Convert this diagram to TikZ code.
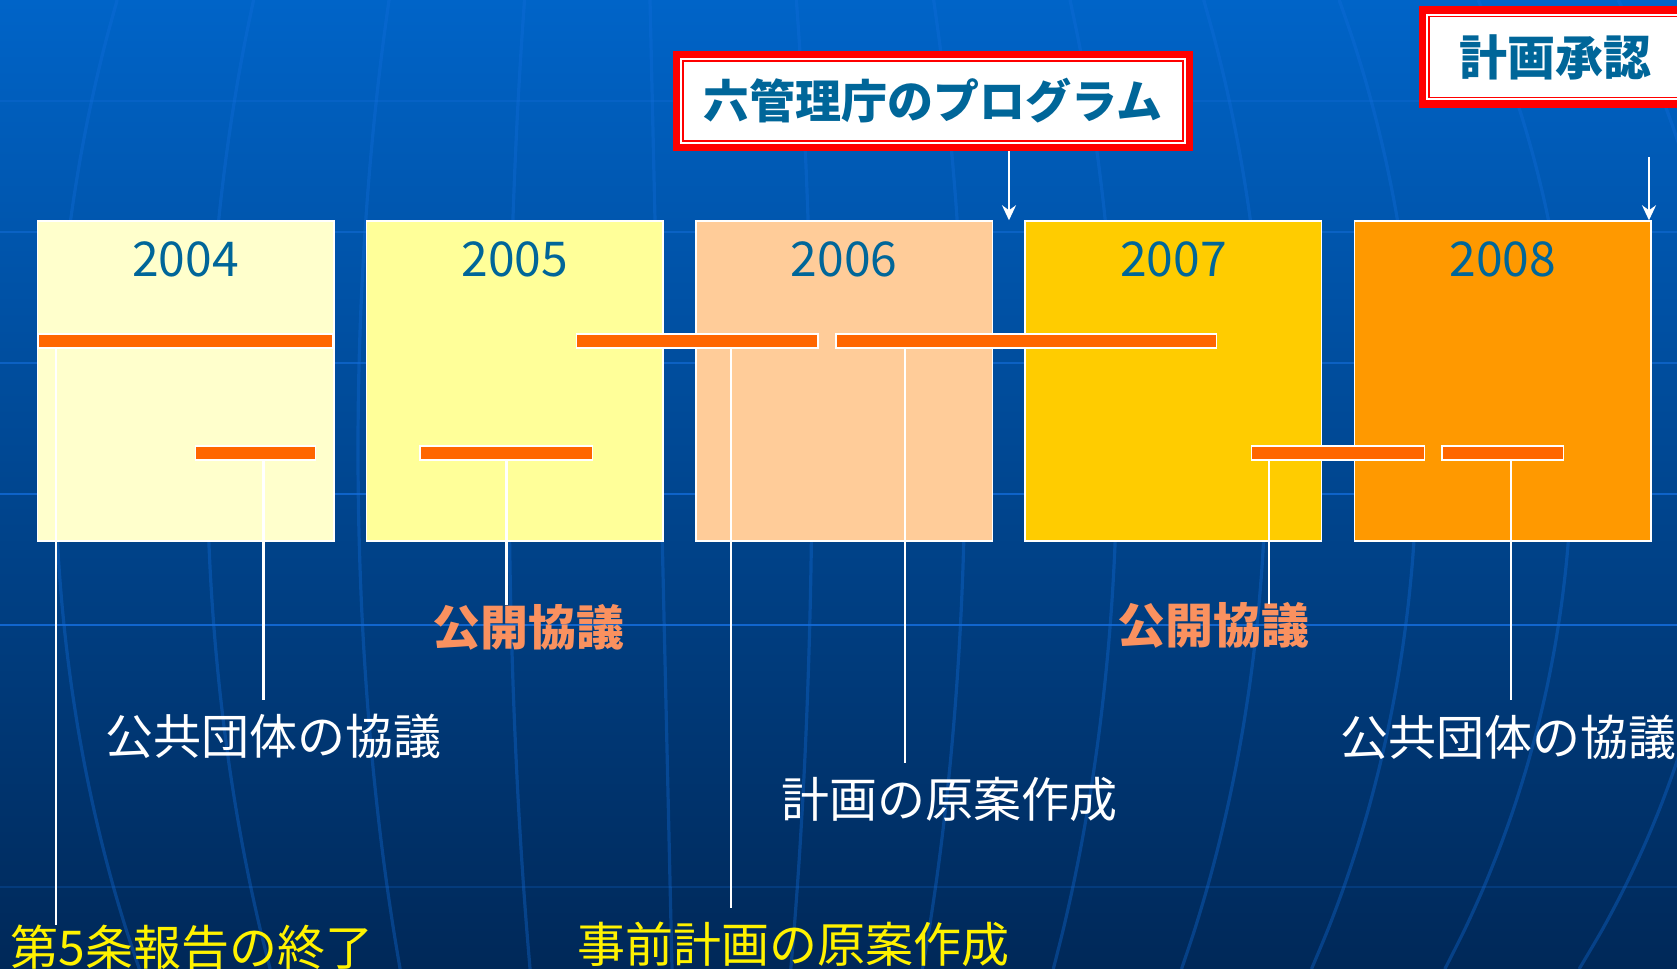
\documentclass[tikz,border=0pt]{standalone}
\usepackage{fontspec}
\setmainfont{Noto Sans CJK JP}
\usetikzlibrary{arrows.meta}
\definecolor{yeartxt}{RGB}{0,102,153}
\definecolor{barorange}{RGB}{255,102,0}
\definecolor{salmon}{RGB}{250,145,95}
\definecolor{c04}{RGB}{255,255,204}
\definecolor{c05}{RGB}{255,255,153}
\definecolor{c06}{RGB}{255,204,153}
\definecolor{c07}{RGB}{255,204,0}
\definecolor{c08}{RGB}{255,153,0}
\definecolor{bgtop}{RGB}{0,100,200}
\definecolor{bgmid}{RGB}{1,70,142}
\definecolor{bgbot}{RGB}{0,40,88}
\definecolor{gridblue}{RGB}{20,110,220}
\definecolor{titlered}{RGB}{255,0,0}
\begin{document}
\begin{tikzpicture}[x=0.5pt,y=-0.5pt,
  yearbox/.style={draw=white, line width=0.75pt, minimum width=148.25pt, minimum height=160pt, inner sep=0pt},
  yeartext/.style={text=yeartxt, font=\fontsize{24}{28}\selectfont, inner sep=0pt},
  bar/.style={fill=barorange, draw=white, line width=0.75pt, minimum height=7pt, inner sep=0pt},
  lbl/.style={inner sep=0pt, font=\fontsize{24}{28}\selectfont},
  boldlbl/.style={inner sep=0pt, font=\bfseries\fontsize{24}{28}\selectfont},
  conn/.style={white, line width=1.1pt},
  arr/.style={white, line width=1pt, -{Stealth[length=7.5pt,width=7pt,inset=2.5pt]}},
  meridian/.style={gridblue, opacity=0.35, line width=1.6pt},
  parallel/.style={gridblue, line width=1.4pt},
  titlebox/.style={fill=white, inner sep=0pt, text=yeartxt},
  thickred/.style={titlered, line width=3.75pt},
  thinred/.style={titlered, line width=0.75pt}
]
\useasboundingbox (0,0) rectangle (1677,969);
\clip (0,0) rectangle (1677,969);
% background
\shade[top color=bgtop, middle color=bgmid, bottom color=bgbot] (0,0) rectangle (1677,969);
\foreach \yy/\op in {101/0.3, 232/0.5, 363/0.6, 494/0.75, 625/0.85, 887/0.22}
  \draw[parallel, opacity=\op] (0,\yy) -- (1677,\yy);
\foreach \k in {-605,-453,-302,-151,152,305,457,606,757,912,1068}
  \draw[meridian] plot[smooth, domain=0:969, samples=25, variable=\t]
    ({660+\k*sqrt(1-((\t-450)/1019)*((\t-450)/1019))}, \t);
\draw[meridian] (650,0) -- (672,969);

% year boxes
\node[yearbox, fill=c04] (y2004) at (185.5,381) {};
\node[yearbox, fill=c05] (y2005) at (514.8,381) {};
\node[yearbox, fill=c06] (y2006) at (844.1,381) {};
\node[yearbox, fill=c07] (y2007) at (1173.4,381) {};
\node[yearbox, fill=c08] (y2008) at (1502.7,381) {};
\node[yeartext] (t2004) at (185.5,259) {2004};
\node[yeartext] (t2005) at (514.8,259) {2005};
\node[yeartext] (t2006) at (844.1,259) {2006};
\node[yeartext] (t2007) at (1173.4,259) {2007};
\node[yeartext] (t2008) at (1502.7,259) {2008};

% labels
\node[lbl, text=yellow] (l1) at (192,947) {第5条報告の終了};
\node[lbl, text=white] (l2) at (273,736) {公共団体の協議};
\node[boldlbl, text=salmon] (l3) at (528,627) {公開協議};
\node[lbl, text=yellow] (l4) at (793,944) {事前計画の原案作成};
\node[lbl, text=white] (l5) at (949.5,799) {計画の原案作成};
\node[boldlbl, text=salmon] (l6) at (1213,625) {公開協議};
\node[lbl, text=white] (l7) at (1508,737) {公共団体の協議};

% connector ends
\coordinate (cA) at (56,925);
\coordinate (cB) at (263.5,700);
\coordinate (cC) at (506.5,605);
\coordinate (cD) at (731,908);
\coordinate (cE) at (904.6,763);
\coordinate (cF) at (1268.8,604);
\coordinate (cG) at (1511.3,700);

% bars
\node[bar, minimum width=147pt] (b1) at (185.5,341) {};
\node[bar, minimum width=60pt] (b2) at (255.4,453) {};
\node[bar, minimum width=86.2pt] (b3) at (506.2,453) {};
\node[bar, minimum width=120.75pt] (b4) at (697.2,341) {};
\node[bar, minimum width=190.4pt] (b5) at (1026.2,341) {};
\node[bar, minimum width=86.5pt] (b6) at (1338,453) {};
\node[bar, minimum width=60.85pt] (b7) at (1502.8,453) {};

% connectors
\draw[conn] (b1.south -| cA) -- (cA);
\draw[conn] (b2.south -| cB) -- (cB);
\draw[conn] (b3.south -| cC) -- (cC);
\draw[conn] (b4.south -| cD) -- (cD);
\draw[conn] (b5.south -| cE) -- (cE);
\draw[conn] (b6.south -| cF) -- (cF);
\draw[conn] (b7.south -| cG) -- (cG);

% title boxes
\node[titlebox, minimum width=260pt, minimum height=50pt, font=\bfseries\fontsize{23}{28}\selectfont] (ti1) at (933,101) {六管理庁のプログラム};
\draw[thickred] ([shift={(3.75,3.75)}]ti1.north west) rectangle ([shift={(-3.75,-3.75)}]ti1.south east);
\draw[thinred] ([shift={(10.25,10.25)}]ti1.north west) rectangle ([shift={(-10.25,-10.25)}]ti1.south east);

\node[titlebox, minimum width=136pt, minimum height=50.3pt, font=\bfseries\fontsize{24}{28}\selectfont] (ti2) at (1555,57) {計画承認};
\draw[thickred] ([shift={(3.75,3.75)}]ti2.north west) rectangle ([shift={(-3.75,-3.75)}]ti2.south east);
\draw[thinred] ([shift={(10.25,10.25)}]ti2.north west) rectangle ([shift={(-10.25,-10.25)}]ti2.south east);

% arrows
\coordinate (a1x) at (1009,0);
\draw[arr] (ti1.south -| a1x) -- (y2007.north -| a1x);
\coordinate (a2s) at (1649,157);
\draw[arr] (a2s) -- (y2008.north -| a2s);
\end{tikzpicture}
\end{document}
